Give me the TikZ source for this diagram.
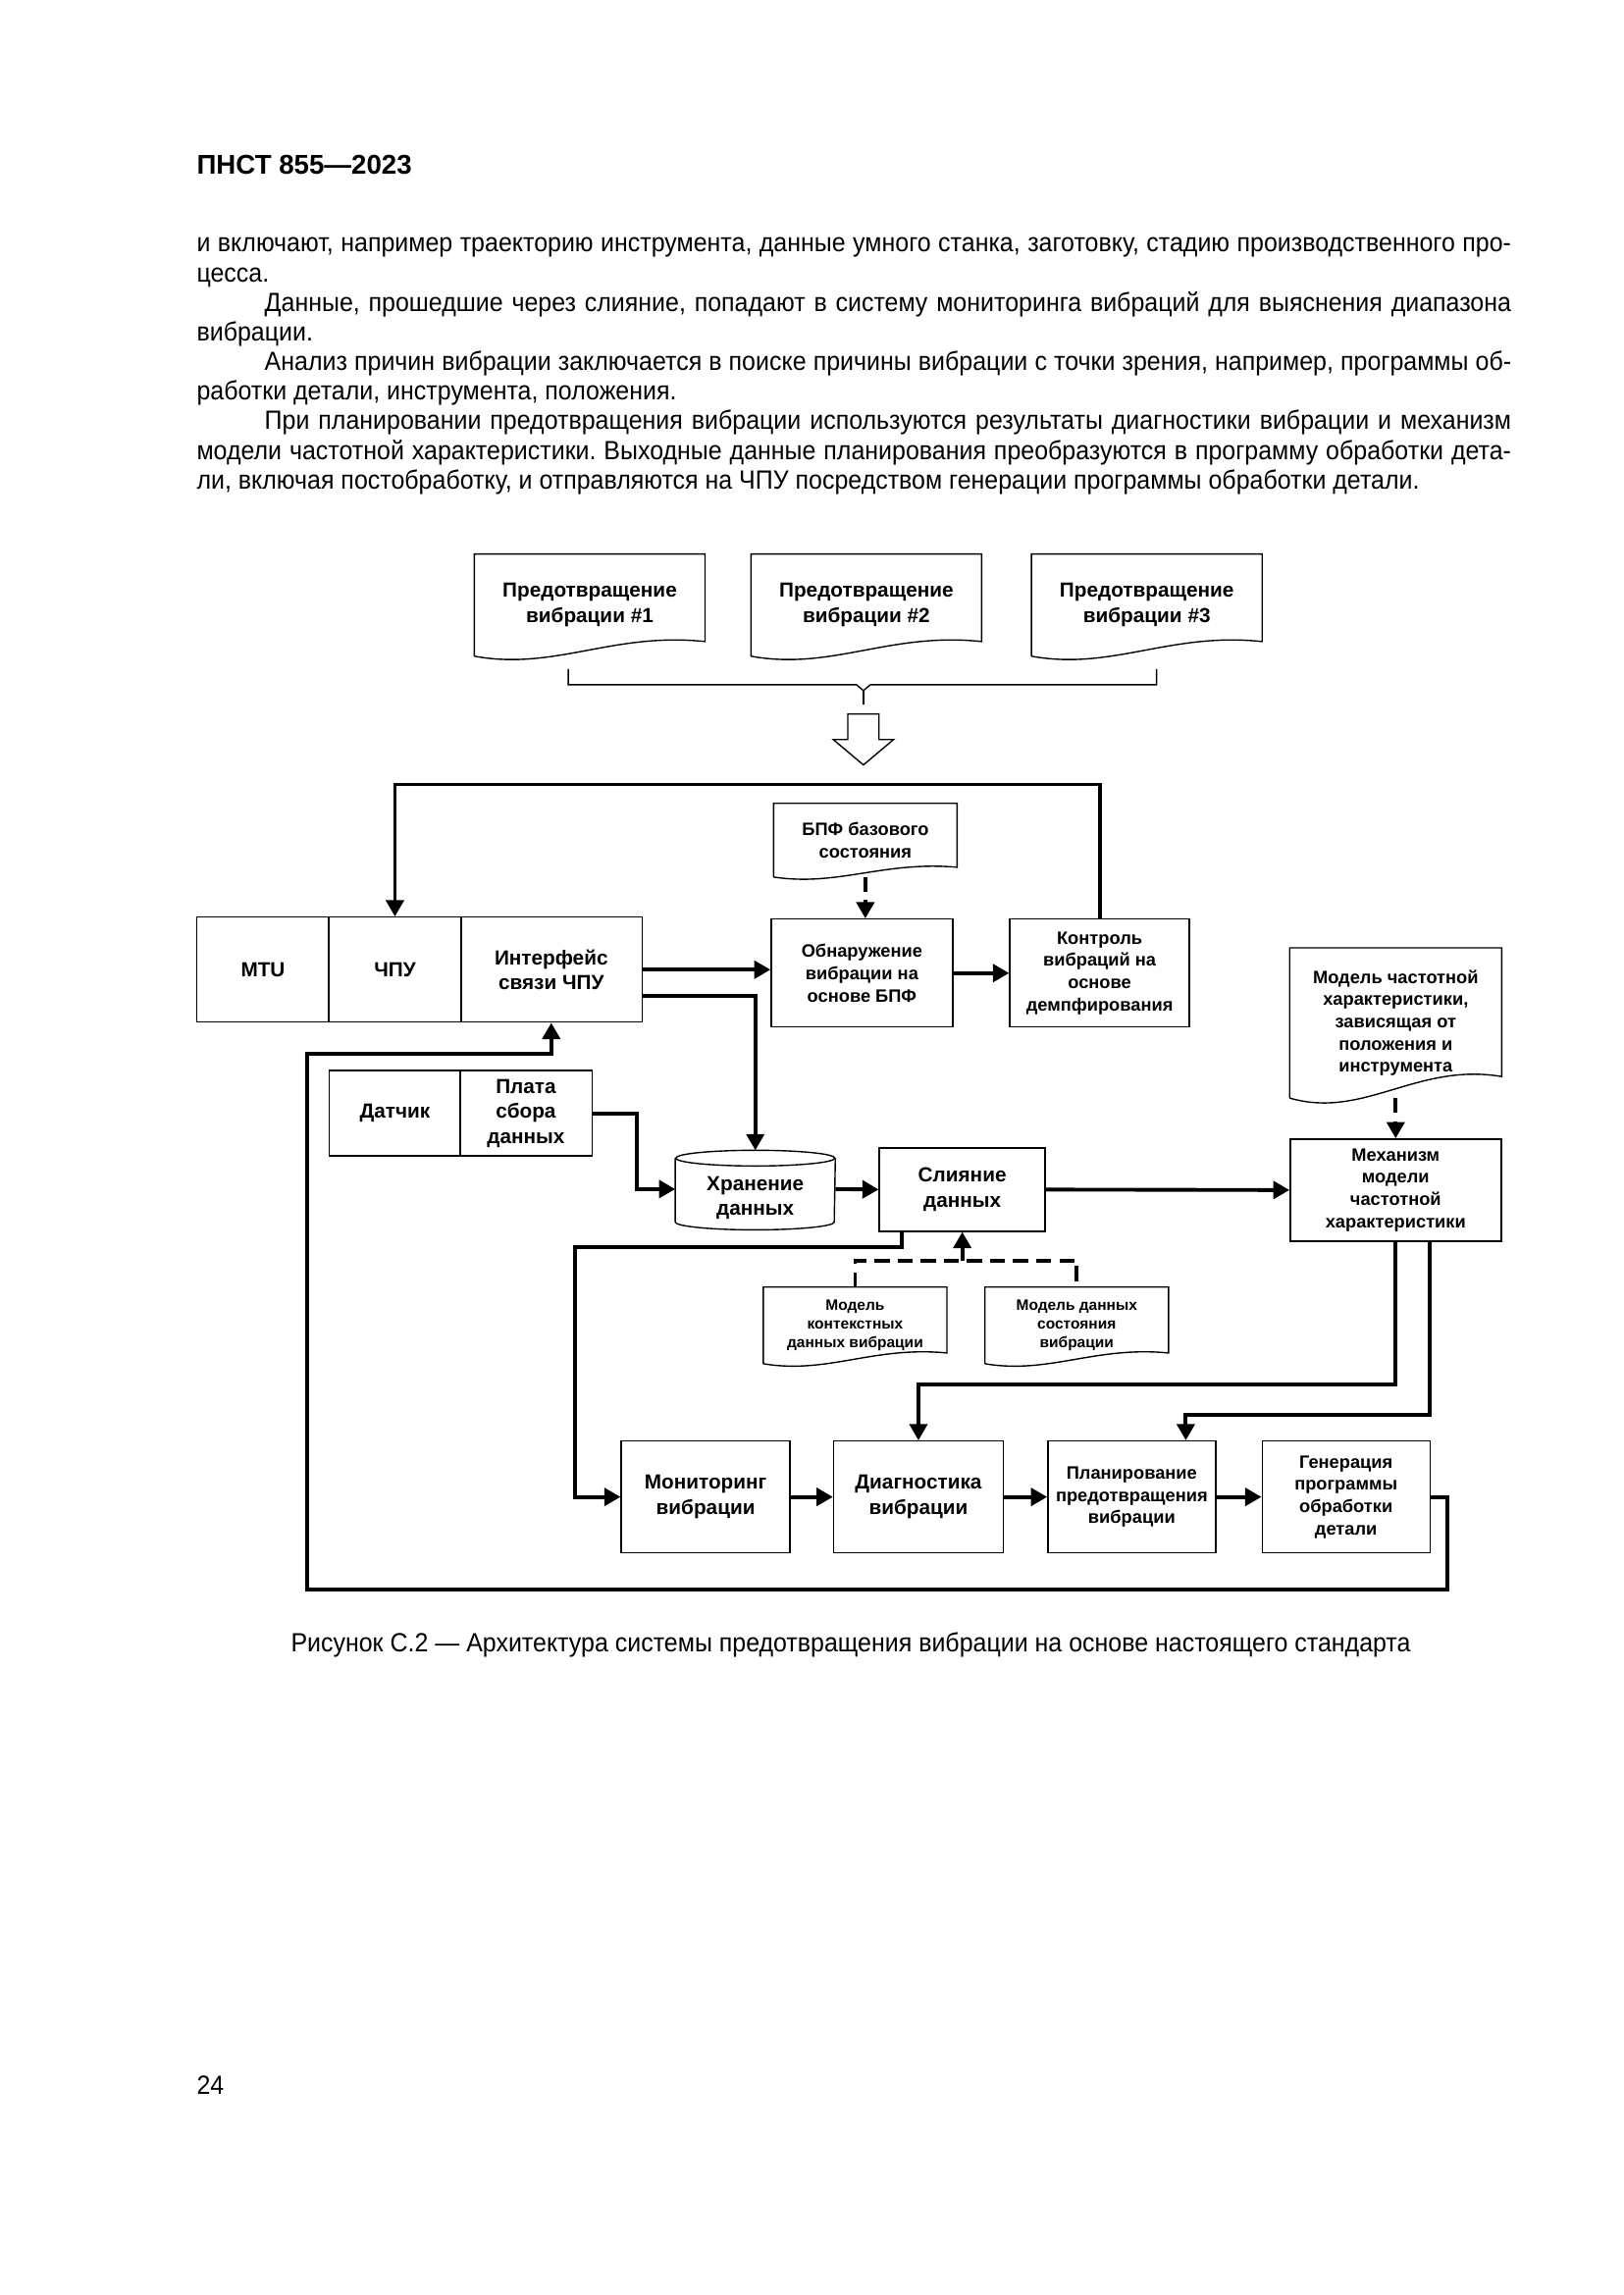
\documentclass[tikz,border=0pt]{standalone}
\usepackage{fontspec}
\setmainfont{Liberation Sans}
\newfontfamily\bodyfont[FakeStretch=0.93]{Liberation Sans}
\usetikzlibrary{arrows.meta,calc}
\newlength{\pxu}\setlength{\pxu}{0.127mm}
\newcommand{\dgbig}{\fontsize{7.5pt}{9.3pt}\selectfont\bfseries}
\newcommand{\dgmid}{\fontsize{6.6pt}{8.2pt}\selectfont\bfseries}
\newcommand{\dgsml}{\fontsize{5.6pt}{7pt}\selectfont\bfseries}
\newcommand{\bodytext}{\bodyfont\fontsize{9.7pt}{10.9pt}\selectfont\frenchspacing}
\newcommand{\docshape}[2]{\draw[bord] (#1.south west) -- (#1.north west) -- (#1.north east) -- ($(#1.south east)+(0,-#2)$) .. controls ($(#1.south west)!0.6!(#1.south east)+(0,-1.67*#2)$) and ($(#1.south west)!0.35!(#1.south east)+(0,#2)$) .. (#1.south west);}
\begin{document}
\begin{tikzpicture}[x=0.127mm,y=-0.127mm,
  bord/.style={line width=0.5pt},
  conn/.style={line width=1.4pt},
  arr/.style={conn,-{Triangle[length=6pt,width=6.5pt]}},
  dsh/.style={line width=1.4pt,dash pattern=on 5.5pt off 3pt},
  darr/.style={dsh,-{Triangle[length=6pt,width=6.5pt]}},
  sz/.style 2 args={minimum width=#1\pxu,minimum height=#2\pxu},
  box/.style={draw,bord,inner sep=0pt,align=center,font=\dgbig},
  doc/.style={inner sep=0pt,align=center,font=\dgbig},
  txt/.style={inner sep=0pt,font=\bodytext}]
\fill[white] (0,0) rectangle (1654,2339);
\useasboundingbox (0,0) rectangle (1654,2339);

% header and body text
\node[inner sep=0pt,anchor=base west,font=\fontsize{10pt}{12pt}\selectfont\bfseries] (hdr) at (200,178) {ПНСТ 855—2023};
\node[txt,anchor=base west] (body) at (200,257) {\vtop{\hsize=484pt
\hbox to \hsize{и включают, например траекторию инструмента, данные умного станка, заготовку, стадию производственного про-}
\hbox{цесса.}
\hbox to \hsize{\hspace*{25pt}Данные, прошедшие через слияние, попадают в систему мониторинга вибраций для выяснения диапазона}
\hbox{вибрации.}
\hbox to \hsize{\hspace*{25pt}Анализ причин вибрации заключается в поиске причины вибрации с точки зрения, например, программы об-}
\hbox{работки детали, инструмента, положения.}
\hbox to \hsize{\hspace*{25pt}При планировании предотвращения вибрации используются результаты диагностики вибрации и механизм}
\hbox to \hsize{модели частотной характеристики. Выходные данные планирования преобразуются в программу обработки дета-}
\hbox{ли, включая постобработку, и отправляются на ЧПУ посредством генерации программы обработки детали.}
}};

\begin{scope}[shift={(1.5,0.7)},x=0.12605mm,y=-0.12649mm]
% top documents
\node[doc,sz={234}{103}] (d1) at (604,618.5) {Предотвращение\\вибрации \#1};
\node[doc,sz={234}{103}] (d2) at (888,618.5) {Предотвращение\\вибрации \#2};
\node[doc,sz={234}{103}] (d3) at (1176,618.5) {Предотвращение\\вибрации \#3};
\docshape{d1}{15}\docshape{d2}{15}\docshape{d3}{15}

% bracket and hollow arrow
\draw[bord] (582,684) -- (582,700) -- (878,700) -- (885,706) -- (892,700) -- (1186,700) -- (1186,684);
\draw[bord] (885,706) -- (885,720);
\draw[bord] (869,730) -- (901,730) -- (901,756) -- (916,756) -- (885,782) -- (854,756) -- (869,756) -- cycle;

% CNC block
\node[box,sz={135}{107}] (mtu) at (268.5,991.5) {MTU};
\node[box,sz={136}{107}] (chpu) at (404,991.5) {ЧПУ};
\node[box,sz={185}{107}] (intf) at (564.5,991.5) {Интерфейс\\связи ЧПУ};

\node[doc,font=\dgmid,sz={186}{74}] (bpf) at (887,859) {БПФ базового\\состояния};
\docshape{bpf}{10}
\node[box,font=\dgmid,sz={185}{110}] (obn) at (883.5,995) {Обнаружение\\вибрации на\\основе БПФ};
\node[box,font=\dgmid,sz={183}{110}] (ktrl) at (1127.5,995) {Контроль\\вибраций на\\основе\\демпфирования};

\node[doc,font=\dgmid,sz={215}{152}] (mfr) at (1431.5,1046) {Модель частотной\\характеристики,\\зависящая от\\положения и\\инструмента};
\docshape{mfr}{22}
\node[box,font=\dgmid,sz={215}{104}] (mech) at (1431.5,1217) {Механизм\\модели\\частотной\\характеристики};

\node[box,sz={134}{87}] (dat) at (404,1138.5) {Датчик};
\node[box,sz={135}{87}] (plata) at (538.5,1138.5) {Плата\\сбора\\данных};

\node[doc,sz={162}{64}] (stor) at (774,1225) {Хранение\\данных};
\draw[bord] ($(stor.north west)+(0,-8)$) -- ($(stor.south west)+(0,-8)$) arc[start angle=180,end angle=360,x radius=81\pxu,y radius=8\pxu] -- ($(stor.north east)+(0,-8)$);
\draw[bord] ($(stor.north)+(0,-8)$) ellipse[x radius=81\pxu,y radius=8\pxu];

\node[box,sz={169}{85}] (slij) at (986.5,1216.5) {Слияние\\данных};

\node[doc,font=\dgsml,sz={186}{77}] (mctx) at (876.5,1355.5) {Модель\\контекстных\\данных вибрации};
\docshape{mctx}{11}
\node[doc,font=\dgsml,sz={186}{77}] (msta) at (1104,1355.5) {Модель данных\\состояния\\вибрации};
\docshape{msta}{11}

\node[box,sz={172}{114}] (mon) at (723,1531) {Мониторинг\\вибрации};
\node[box,sz={173}{114}] (diag) at (941.5,1531) {Диагностика\\вибрации};
\node[box,font=\dgmid,sz={171}{114}] (plan) at (1160.5,1531) {Планирование\\предотвращения\\вибрации};
\node[box,font=\dgmid,sz={171}{114}] (gen) at (1380.5,1531) {Генерация\\программы\\обработки\\детали};

% helper coordinates
\coordinate (ytop) at (0,802);
\coordinate (dashy) at (0,1289);
\coordinate (c1) at (589,1275);
\coordinate (m1) at (0,1416);
\coordinate (p2) at (1216,1447);
\coordinate (g1) at (1485,1626);
\coordinate (g2) at (314,1078);

% connectors
\draw[arr] (ktrl.north) -- (ktrl.north |- ytop) -- (chpu.north |- ytop) -- (chpu.north);
\draw[arr] (intf.east) -- (obn.west |- intf.east);
\draw[arr] ($(intf.east)+(0,26.5)$) -| ($(stor.north)+(0,-16)$);
\draw[arr] (obn.east) -- (ktrl.west);
\draw[darr] (bpf.south) -- (bpf.south |- obn.north);
\draw[darr] (mfr.south) -- (mech.north);
\draw[arr] (plata.east) -- ++(45,0) |- ($(stor.west)+(0,-9)$);
\draw[arr] ($(stor.east)+(0,-9)$) -- (slij.west);
\draw[arr] (slij.east) -- (mech.west);
\draw[arr] ($(slij.south west)+(24,0)$) |- (c1) |- (mon.west);
\draw[dsh] (mctx.north) |- (dashy -| slij.south) -| (msta.north);
\draw[arr] (dashy -| slij.south) -- (slij.south);
\draw[arr] (mech.south) |- (m1 -| diag.north) -- (diag.north);
\draw[arr] ($(mech.south)+(35,0)$) |- (p2) -- (p2 |- plan.north);
\draw[arr] (mon.east) -- (diag.west);
\draw[arr] (diag.east) -- (plan.west);
\draw[arr] (plan.east) -- (gen.west);
\draw[arr] (gen.east) -| (g1) -| (g2) -| (intf.south);

% caption and page number
\node[txt,anchor=base] (cap) at (872,1689) {Рисунок С.2 — Архитектура системы предотвращения вибрации на основе настоящего стандарта};
\node[txt,anchor=base west] (pg) at (200,2142) {24};
\end{scope}
\end{tikzpicture}
\end{document}
